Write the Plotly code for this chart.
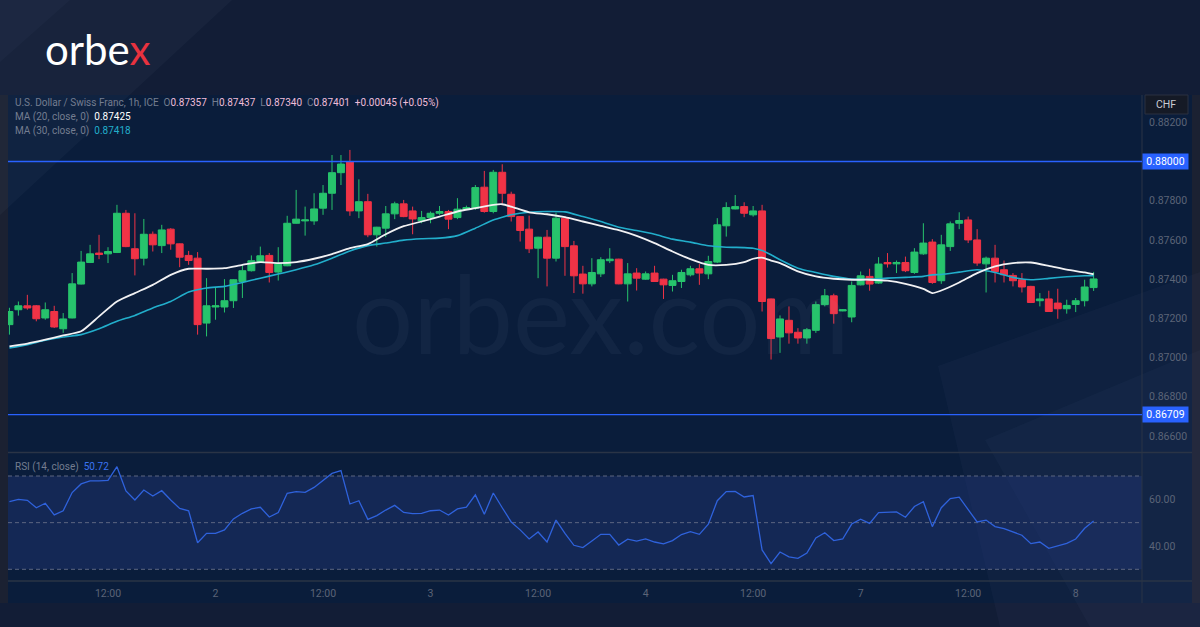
import plotly.graph_objects as go

# ---------------- data ----------------
opens = [
    0.87168, 0.87244, 0.87264, 0.87264, 0.87202, 0.87235, 0.87147, 0.87202, 0.87375, 0.87485,
    0.87533, 0.87529, 0.87536, 0.87736, 0.87555, 0.87507, 0.87629, 0.87571, 0.87655, 0.87580,
    0.87521, 0.87507, 0.87176, 0.87258, 0.87258, 0.87290, 0.87388, 0.87443, 0.87490, 0.87521,
    0.87436, 0.87468, 0.87685, 0.87697, 0.87697, 0.87762, 0.87838, 0.87943, 0.87999, 0.87748,
    0.87795, 0.87626, 0.87660, 0.87733, 0.87784, 0.87748, 0.87697, 0.87714, 0.87736, 0.87745,
    0.87714, 0.87757, 0.87762, 0.87869, 0.87745, 0.87945, 0.87833, 0.87719, 0.87655, 0.87558,
    0.87614, 0.87507, 0.87711, 0.87570, 0.87426, 0.87376, 0.87427, 0.87494, 0.87502, 0.87376,
    0.87431, 0.87400, 0.87431, 0.87400, 0.87368, 0.87388, 0.87422, 0.87453, 0.87427, 0.87487,
    0.87672, 0.87758, 0.87770, 0.87728, 0.87748, 0.87299, 0.87105, 0.87190, 0.87129, 0.87100,
    0.87139, 0.87270, 0.87315, 0.87238, 0.87207, 0.87371, 0.87414, 0.87380, 0.87485, 0.87478,
    0.87485, 0.87434, 0.87529, 0.87589, 0.87392, 0.87566, 0.87685, 0.87702, 0.87600, 0.87478,
    0.87507, 0.87448, 0.87419, 0.87397, 0.87363, 0.87290, 0.87299, 0.87278, 0.87249, 0.87271,
    0.87290, 0.87357]
highs = [
    0.87254, 0.87286, 0.87320, 0.87268, 0.87281, 0.87264, 0.87227, 0.87431, 0.87544, 0.87575,
    0.87626, 0.87563, 0.87779, 0.87753, 0.87736, 0.87707, 0.87643, 0.87677, 0.87660, 0.87582,
    0.87544, 0.87538, 0.87405, 0.87355, 0.87400, 0.87399, 0.87473, 0.87521, 0.87566, 0.87533,
    0.87563, 0.87723, 0.87855, 0.87770, 0.87838, 0.87880, 0.88033, 0.88033, 0.88059, 0.87909,
    0.87835, 0.87667, 0.87773, 0.87795, 0.87804, 0.87770, 0.87748, 0.87745, 0.87773, 0.87753,
    0.87813, 0.87775, 0.87880, 0.87952, 0.87957, 0.87986, 0.87846, 0.87721, 0.87724, 0.87616,
    0.87651, 0.87739, 0.87719, 0.87595, 0.87468, 0.87507, 0.87512, 0.87558, 0.87504, 0.87482,
    0.87456, 0.87439, 0.87468, 0.87402, 0.87422, 0.87448, 0.87468, 0.87477, 0.87519, 0.87711,
    0.87792, 0.87829, 0.87792, 0.87773, 0.87779, 0.87301, 0.87215, 0.87261, 0.87150, 0.87151,
    0.87286, 0.87350, 0.87326, 0.87246, 0.87388, 0.87439, 0.87453, 0.87512, 0.87533, 0.87495,
    0.87515, 0.87558, 0.87685, 0.87604, 0.87626, 0.87694, 0.87741, 0.87719, 0.87655, 0.87515,
    0.87575, 0.87495, 0.87431, 0.87431, 0.87366, 0.87329, 0.87341, 0.87351, 0.87295, 0.87304,
    0.87397, 0.87437]
lows = [
    0.87117, 0.87214, 0.87244, 0.87185, 0.87193, 0.87151, 0.87126, 0.87200, 0.87373, 0.87482,
    0.87502, 0.87482, 0.87533, 0.87563, 0.87419, 0.87470, 0.87541, 0.87533, 0.87550, 0.87461,
    0.87473, 0.87117, 0.87108, 0.87193, 0.87230, 0.87253, 0.87304, 0.87439, 0.87482, 0.87383,
    0.87393, 0.87466, 0.87683, 0.87622, 0.87677, 0.87728, 0.87753, 0.87880, 0.87723, 0.87711,
    0.87614, 0.87566, 0.87614, 0.87706, 0.87716, 0.87629, 0.87685, 0.87685, 0.87728, 0.87655,
    0.87706, 0.87753, 0.87753, 0.87739, 0.87736, 0.87787, 0.87694, 0.87592, 0.87533, 0.87405,
    0.87363, 0.87490, 0.87417, 0.87329, 0.87326, 0.87363, 0.87411, 0.87482, 0.87374, 0.87286,
    0.87342, 0.87397, 0.87386, 0.87299, 0.87337, 0.87355, 0.87414, 0.87371, 0.87400, 0.87482,
    0.87617, 0.87756, 0.87716, 0.87719, 0.87235, 0.86990, 0.87024, 0.87071, 0.87071, 0.87071,
    0.87126, 0.87261, 0.87173, 0.87236, 0.87180, 0.87368, 0.87341, 0.87376, 0.87459, 0.87431,
    0.87436, 0.87427, 0.87524, 0.87376, 0.87376, 0.87544, 0.87655, 0.87584, 0.87468, 0.87332,
    0.87383, 0.87383, 0.87363, 0.87332, 0.87278, 0.87261, 0.87233, 0.87198, 0.87224, 0.87232,
    0.87261, 0.87340]
closes = [
    0.87235, 0.87264, 0.87253, 0.87198, 0.87244, 0.87156, 0.87197, 0.87376, 0.87487, 0.87529,
    0.87526, 0.87541, 0.87736, 0.87566, 0.87504, 0.87629, 0.87575, 0.87651, 0.87580, 0.87512,
    0.87495, 0.87168, 0.87264, 0.87264, 0.87290, 0.87397, 0.87443, 0.87494, 0.87519, 0.87434,
    0.87478, 0.87685, 0.87706, 0.87702, 0.87758, 0.87838, 0.87943, 0.87987, 0.87748, 0.87795,
    0.87626, 0.87665, 0.87733, 0.87784, 0.87719, 0.87707, 0.87714, 0.87736, 0.87745, 0.87706,
    0.87757, 0.87765, 0.87867, 0.87745, 0.87945, 0.87838, 0.87719, 0.87648, 0.87555, 0.87614,
    0.87507, 0.87711, 0.87566, 0.87417, 0.87376, 0.87434, 0.87499, 0.87502, 0.87376, 0.87427,
    0.87405, 0.87427, 0.87388, 0.87371, 0.87392, 0.87434, 0.87453, 0.87431, 0.87490, 0.87677,
    0.87765, 0.87770, 0.87736, 0.87748, 0.87286, 0.87097, 0.87197, 0.87126, 0.87100, 0.87142,
    0.87270, 0.87315, 0.87224, 0.87244, 0.87368, 0.87417, 0.87375, 0.87477, 0.87478, 0.87485,
    0.87443, 0.87538, 0.87584, 0.87383, 0.87575, 0.87682, 0.87699, 0.87600, 0.87482, 0.87507,
    0.87439, 0.87422, 0.87392, 0.87360, 0.87281, 0.87299, 0.87235, 0.87249, 0.87266, 0.87290,
    0.87360, 0.87401]

ma_idx = [0, 2, 4, 6, 8, 10, 12, 14, 16, 18,
          20, 22, 24, 26, 28, 30, 32, 34, 36, 38,
          40, 42, 44, 46, 48, 50, 52, 54, 55, 56,
          58, 60, 62, 64, 66, 68, 70, 72, 74, 76,
          78, 80, 82, 83, 84, 85, 86, 88, 90, 92,
          94, 96, 98, 100, 102, 103, 104, 106, 108, 110,
          112, 114, 116, 118, 120, 121]
ma20 = [0.87057, 0.87071, 0.87091, 0.87113, 0.87134, 0.87210, 0.87286, 0.87329, 0.87371, 0.87422,
        0.87453, 0.87453, 0.87456, 0.87473, 0.87487, 0.87482, 0.87487, 0.87504, 0.87528, 0.87558,
        0.87579, 0.87629, 0.87670, 0.87694, 0.87719, 0.87745, 0.87762, 0.87779, 0.87782, 0.87770,
        0.87741, 0.87731, 0.87716, 0.87694, 0.87672, 0.87650, 0.87621, 0.87584, 0.87541, 0.87502,
        0.87473, 0.87473, 0.87487, 0.87504, 0.87510, 0.87495, 0.87482, 0.87440, 0.87414, 0.87402,
        0.87397, 0.87397, 0.87392, 0.87376, 0.87350, 0.87329, 0.87342, 0.87383, 0.87431, 0.87465,
        0.87482, 0.87485, 0.87468, 0.87448, 0.87434, 0.87425]
ma30 = [0.87049, 0.87066, 0.87088, 0.87105, 0.87117, 0.87147, 0.87185, 0.87215, 0.87253, 0.87286,
        0.87334, 0.87355, 0.87363, 0.87383, 0.87405, 0.87426, 0.87448, 0.87473, 0.87507, 0.87544,
        0.87571, 0.87584, 0.87599, 0.87606, 0.87609, 0.87622, 0.87660, 0.87702, 0.87716, 0.87728,
        0.87741, 0.87745, 0.87743, 0.87719, 0.87694, 0.87665, 0.87648, 0.87629, 0.87604, 0.87589,
        0.87570, 0.87563, 0.87561, 0.87558, 0.87546, 0.87524, 0.87499, 0.87456, 0.87434, 0.87414,
        0.87400, 0.87400, 0.87405, 0.87409, 0.87414, 0.87422, 0.87424, 0.87436, 0.87448, 0.87434,
        0.87409, 0.87397, 0.87404, 0.87412, 0.87417, 0.87418]

rsi = [59.0, 60.0, 59.6, 56.4, 58.3, 53.3, 55.1, 62.9, 66.6, 67.9,
       67.9, 68.1, 74.0, 63.6, 59.7, 64.0, 61.4, 63.7, 59.7, 56.1,
       55.1, 41.4, 45.4, 45.4, 46.9, 51.6, 54.0, 55.9, 56.6, 52.4,
       54.3, 62.6, 63.3, 63.0, 65.1, 68.0, 71.1, 72.3, 58.0, 59.4,
       51.4, 53.0, 55.4, 57.4, 54.4, 53.9, 54.0, 55.1, 55.4, 53.3,
       55.9, 56.6, 61.9, 53.6, 62.7, 56.4, 50.3, 46.9, 43.0, 46.0,
       41.7, 51.1, 45.4, 40.3, 39.3, 42.1, 45.0, 45.0, 40.4, 42.9,
       42.1, 43.0, 41.7, 40.9, 42.3, 44.9, 46.1, 45.0, 49.3, 59.4,
       63.3, 63.4, 61.0, 61.6, 38.3, 32.4, 37.4, 35.3, 34.7, 37.0,
       43.4, 45.7, 42.3, 43.0, 49.4, 51.5, 49.7, 54.3, 54.6, 54.6,
       52.3, 56.9, 59.0, 48.3, 56.4, 60.3, 60.9, 55.7, 50.3, 51.1,
       48.3, 47.4, 46.1, 44.6, 41.0, 41.7, 39.0, 40.1, 41.1, 43.0,
       47.6, 50.72]

time_tick_idx = [11, 23, 35, 47, 59, 71, 83, 95, 107, 119]
time_tick_text = ["12:00", "2", "12:00", "3", "12:00", "4", "12:00", "7", "12:00", "8"]
price_ticks = [0.882, 0.878, 0.876, 0.874, 0.872, 0.870, 0.868, 0.866]
rsi_ticks = [40, 60]
rsi_levels = [70, 50, 30]
level_high = 0.88000
level_low = 0.86709
last_ohlc = (0.87357, 0.87437, 0.87340, 0.87401)
change_txt = "+0.00045 (+0.05%)"
ma20_last, ma30_last, rsi_last = 0.87425, 0.87418, 50.72

# ---------------- style ----------------
W, H = 1200, 627
OUTER = "#121d36"
PANEL = "#0a1d3b"
STRIP = "#1b2132"
GREEN = "#27c36c"
RED = "#f03346"
CYAN = "#22aecb"
WHITE_MA = "#f1f1f3"
BLUE = "#2962ff"
RSI_BLUE = "#2f62dc"
GREY = "#747d90"
AXIS_TXT = "#5b6477"
SEP = "#2a3446"
FONT = "Roboto"


def px(x):
    return x / W


def py(y):
    return 1 - y / H


PLOT_L, PLOT_R, PANEL_R = 8, 1142, 1192
PANEL_T, PRICE_B, RSI_T, RSI_B, PANEL_B = 95, 452, 453, 581, 603

idx = list(range(len(opens)))
xr = [-0.16, 126.4]

fig = go.Figure()
fig.add_trace(go.Candlestick(
    x=idx, open=opens, high=highs, low=lows, close=closes,
    increasing=dict(line=dict(color=GREEN, width=1), fillcolor=GREEN),
    decreasing=dict(line=dict(color=RED, width=1), fillcolor=RED),
    whiskerwidth=0, showlegend=False, hoverinfo="skip", xaxis="x", yaxis="y"))
fig.add_trace(go.Scatter(x=ma_idx, y=ma30, mode="lines", line=dict(color=CYAN, width=1.6, shape="spline", smoothing=0.6),
                         hoverinfo="skip", showlegend=False, xaxis="x", yaxis="y"))
fig.add_trace(go.Scatter(x=ma_idx, y=ma20, mode="lines", line=dict(color=WHITE_MA, width=1.8, shape="spline", smoothing=0.6),
                         hoverinfo="skip", showlegend=False, xaxis="x", yaxis="y"))
fig.add_trace(go.Scatter(x=idx, y=rsi, mode="lines", line=dict(color=RSI_BLUE, width=1.3),
                         hoverinfo="skip", showlegend=False, xaxis="x2", yaxis="y2"))

shapes = []
# panel background and side strips
shapes.append(dict(type="rect", xref="paper", yref="paper", x0=px(PLOT_L), x1=px(PANEL_R), y0=py(PANEL_B), y1=py(PANEL_T),
                   fillcolor=PANEL, line=dict(width=0), layer="below"))
shapes.append(dict(type="rect", xref="paper", yref="paper", x0=0, x1=px(PLOT_L), y0=py(PANEL_B), y1=py(PANEL_T),
                   fillcolor=STRIP, line=dict(width=0), layer="below"))
shapes.append(dict(type="rect", xref="paper", yref="paper", x0=px(PANEL_R), x1=1, y0=py(PANEL_B), y1=py(PANEL_T),
                   fillcolor=STRIP, line=dict(width=0), layer="below"))


# decorative diagonal light bands of the background
def poly(points):
    return "M " + " L ".join(f"{px(a):.5f},{py(b):.5f}" for a, b in points) + " Z"


shapes.append(dict(type="path", xref="paper", yref="paper", path=poly([(0, 0), (232, 0), (0, 215)]),
                   fillcolor="rgba(160,180,220,0.045)", line=dict(width=0), layer="below"))
shapes.append(dict(type="path", xref="paper", yref="paper", path=poly([(0, 0), (70, 0), (0, 62)]),
                   fillcolor="rgba(160,180,220,0.03)", line=dict(width=0), layer="below"))
shapes.append(dict(type="path", xref="paper", yref="paper", path=poly([(938, 366), (1200, 272), (1200, 627), (1000, 627)]),
                   fillcolor="rgba(160,180,220,0.035)", line=dict(width=0), layer="below"))
shapes.append(dict(type="path", xref="paper", yref="paper", path=poly([(985, 440), (1200, 350), (1200, 627), (1090, 627)]),
                   fillcolor="rgba(160,180,220,0.03)", line=dict(width=0), layer="below"))
# RSI band 30-70
shapes.append(dict(type="rect", xref="paper", yref="y2", x0=px(PLOT_L), x1=px(PLOT_R), y0=30, y1=70,
                   fillcolor="rgba(38,58,130,0.38)", line=dict(width=0), layer="below"))
for lv in rsi_levels:
    shapes.append(dict(type="line", xref="paper", yref="y2", x0=px(PLOT_L), x1=px(PLOT_R), y0=lv, y1=lv,
                       line=dict(color="#5c6680", width=1, dash="4px,3px"), layer="below"))
# separators
shapes.append(dict(type="line", xref="paper", yref="paper", x0=px(PLOT_R), x1=px(PLOT_R), y0=py(PANEL_B), y1=py(PANEL_T),
                   line=dict(color=SEP, width=1)))
shapes.append(dict(type="line", xref="paper", yref="paper", x0=px(PLOT_L), x1=px(PANEL_R), y0=py(452.5), y1=py(452.5),
                   line=dict(color=SEP, width=1.5)))
shapes.append(dict(type="line", xref="paper", yref="paper", x0=px(PLOT_L), x1=px(PANEL_R), y0=py(581), y1=py(581),
                   line=dict(color=SEP, width=1.5)))
# horizontal levels
for lv in (level_high, level_low):
    shapes.append(dict(type="line", xref="paper", yref="y", x0=px(PLOT_L), x1=px(PLOT_R), y0=lv, y1=lv,
                       line=dict(color=BLUE, width=1.3)))
# CHF box
shapes.append(dict(type="rect", xref="paper", yref="paper", x0=px(1145), x1=px(1188), y0=py(114), y1=py(95),
                   fillcolor="#151a26", line=dict(color="#2a3040", width=1)))

annotations = []
# logo
annotations.append(dict(xref="paper", yref="paper", x=px(43), y=py(49), xanchor="left", yanchor="middle",
                        text="orbe<span style='color:#e8323f'>x</span>", showarrow=False,
                        font=dict(family="Lato", size=42, color="#ffffff")))
# watermark
annotations.append(dict(xref="paper", yref="paper", x=px(600), y=py(312), xanchor="center", yanchor="middle",
                        text="orbex.com", showarrow=False,
                        font=dict(family="Lato", size=108, color="rgba(150,170,210,0.06)")))


def g(t):
    return f"<span style='color:{GREY}'>{t}</span>"


def c(t, col):
    return f"<span style='color:{col}'>{t}</span>"


PINK = "#efbcd8"
FS = 10
o, h, l, cl = last_ohlc
line1 = (g("U.S. Dollar / Swiss Franc, 1h, ICE") + "  " + g("O") + c(f"{o:.5f}", PINK) + "  " + g("H") + c(f"{h:.5f}", PINK)
         + "  " + g("L") + c(f"{l:.5f}", PINK) + "  " + g("C") + c(f"{cl:.5f}", PINK) + "  " + c(change_txt, PINK))
annotations.append(dict(xref="paper", yref="paper", x=px(13), y=py(103), xanchor="left", yanchor="middle",
                        text=line1, showarrow=False, font=dict(family=FONT, size=FS, color=GREY)))
annotations.append(dict(xref="paper", yref="paper", x=px(13), y=py(117), xanchor="left", yanchor="middle",
                        text=g("MA (20, close, 0)") + "  " + c(f"{ma20_last:.5f}", "#ffffff"), showarrow=False,
                        font=dict(family=FONT, size=FS, color=GREY)))
annotations.append(dict(xref="paper", yref="paper", x=px(13), y=py(131), xanchor="left", yanchor="middle",
                        text=g("MA (30, close, 0)") + "  " + c(f"{ma30_last:.5f}", CYAN), showarrow=False,
                        font=dict(family=FONT, size=FS, color=GREY)))
annotations.append(dict(xref="paper", yref="paper", x=px(13), y=py(467), xanchor="left", yanchor="middle",
                        text=g("RSI (14, close)") + "  " + c(f"{rsi_last:.2f}", "#3b74f2"), showarrow=False,
                        font=dict(family=FONT, size=FS, color=GREY)))
# price badges
for lv in (level_high, level_low):
    annotations.append(dict(xref="paper", yref="y", x=px(1165), y=lv, xanchor="center", yanchor="middle",
                            text=f"{lv:.5f}", showarrow=False, bgcolor=BLUE, width=43, height=13, borderpad=1,
                            font=dict(family=FONT, size=10.5, color="#ffffff")))
annotations.append(dict(xref="paper", yref="paper", x=px(1166), y=py(104), xanchor="center", yanchor="middle",
                        text="CHF", showarrow=False, font=dict(family=FONT, size=10.5, color="#c9ccd4")))

p_top = 0.88 + (161.5 - PANEL_T) * 0.000051
p_bot = 0.88 - (PRICE_B - 161.5) * 0.000051
r_top = 70 + (476 - RSI_T) / 2.333
r_bot = 30 - (RSI_B - 569.3) / 2.333

fig.update_layout(
    width=W, height=H, margin=dict(l=0, r=0, t=0, b=0), autosize=False,
    paper_bgcolor=OUTER, plot_bgcolor="rgba(0,0,0,0)", showlegend=False,
    boxgap=0.12, boxgroupgap=0.12, hovermode=False,
    font=dict(family=FONT),
    xaxis=dict(domain=[px(PLOT_L), px(PLOT_R)], range=xr, anchor="y", showticklabels=False, showgrid=False,
               zeroline=False, showline=False, rangeslider=dict(visible=False), fixedrange=True),
    yaxis=dict(domain=[py(PRICE_B), py(PANEL_T)], range=[p_bot, p_top], anchor="x", side="right",
               tickvals=price_ticks, tickformat=".5f", showgrid=False, zeroline=False, showline=False,
               ticks="", ticklabelstandoff=6, tickfont=dict(family=FONT, size=10.5, color=AXIS_TXT)),
    xaxis2=dict(domain=[px(PLOT_L), px(PLOT_R)], range=xr, anchor="y2", tickvals=time_tick_idx,
                ticktext=time_tick_text, showgrid=False, zeroline=False, showline=False, ticks="",
                ticklabelstandoff=4, tickfont=dict(family=FONT, size=10.5, color=AXIS_TXT)),
    yaxis2=dict(domain=[py(RSI_B), py(RSI_T)], range=[r_bot, r_top], anchor="x2", side="right",
                tickvals=rsi_ticks, ticktext=[f"{v:.2f}" for v in rsi_ticks], showgrid=False, zeroline=False,
                showline=False, ticks="", ticklabelstandoff=6,
                tickfont=dict(family=FONT, size=10.5, color=AXIS_TXT)),
    shapes=shapes, annotations=annotations,
)

fig.write_html("out.html", config={"displayModeBar": False, "staticPlot": True},
               post_script="document.body.style.margin='0px';document.body.style.overflow='hidden';")
